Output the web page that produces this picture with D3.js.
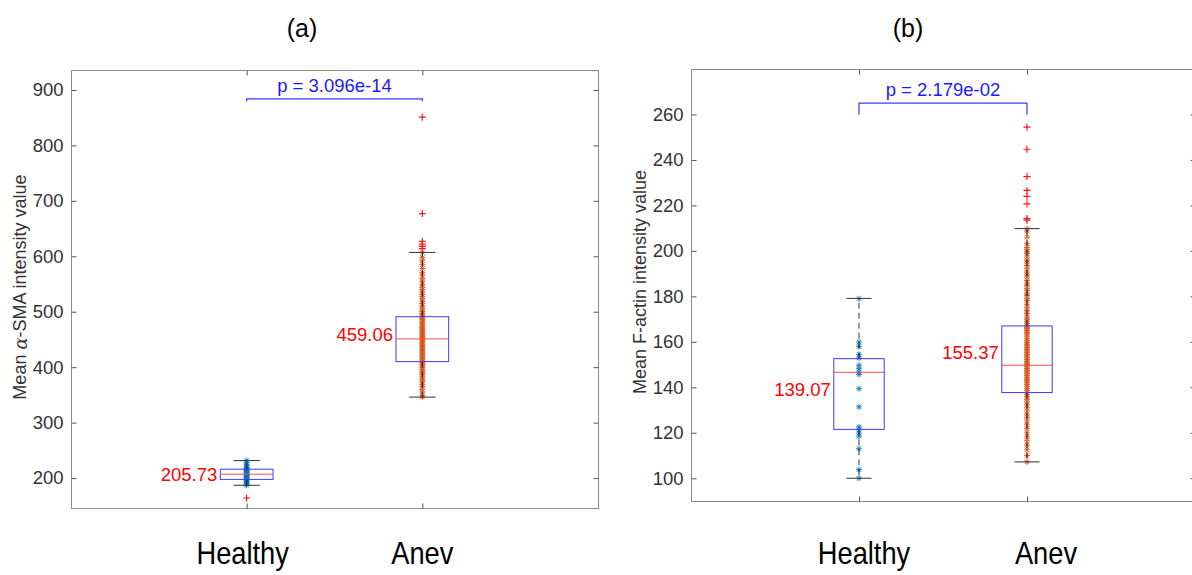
<!DOCTYPE html>
<html>
<head>
<meta charset="utf-8">
<script src="https://cdn.jsdelivr.net/npm/d3@7"></script>
<style>
  html, body { margin: 0; padding: 0; background: #fff; }
  svg { display: block; }
</style>
</head>
<body>
<svg id="chart" width="1192" height="575"></svg>
<script>
// ---------------- DATA ----------------
const categories = ["Healthy", "Anev"];
const panelTitles = ["(a)", "(b)"];
const yLabelsA = ["Mean ", "α", "-SMA intensity value"];
const yLabelB = "Mean F-actin intensity value";

// Panel (a): alpha-SMA
const smaTicks = [200, 300, 400, 500, 600, 700, 800, 900];
const smaHealthy = [231.5, 228, 225, 222, 219.5, 217, 215, 213.5, 212, 210.5, 209, 207.5, 206, 204.5, 203, 201, 199, 197, 195, 193, 191, 189, 187];
const smaAnev = [607, 598, 592, 585, 578, 571, 566, 560, 555, 549, 544, 540, 536, 531, 527, 523, 519, 515, 511, 507, 503, 500, 497, 494, 491, 489, 486, 483, 480, 478, 475, 472, 470, 467, 465, 462, 460, 458, 455, 453, 451, 449, 447, 444, 442, 440, 437, 435, 432, 430, 427, 425, 422, 420, 418, 415, 413, 410, 408, 405, 402, 399, 396, 393, 390, 387, 384, 380, 377, 373, 369, 365, 360, 355, 349, 346];
const smaOutHealthy = [164];
const smaOutAnev = [614, 618, 622, 627, 677, 851];
const smaQ1 = [197.6, 410];
const smaMedian = [207, 451];
const smaQ3 = [216, 491];
const smaWhiskerLo = [187, 346];
const smaWhiskerHi = [231.5, 607];
const smaMeans = [205.73, 459.06];
const smaP = "p = 3.096e-14";
const smaBracket = 884;

// Panel (b): F-actin
const actinTicks = [100, 120, 140, 160, 180, 200, 220, 240, 260];
const actinHealthy = [179, 159.9, 158, 154.5, 152.9, 149.7, 148.2, 146.7, 145.7, 139.4, 131.4, 122.6, 121.4, 119.9, 118.5, 113, 103.8, 100];
const actinAnev = [209.8, 208.7, 206, 203.2, 201.5, 200.5, 199.5, 198.8, 197.3, 196, 195.1, 193.6, 192.2, 190.7, 189.5, 188.5, 187, 185.5, 184.8, 183.5, 182.6, 181, 180.4, 179, 178.2, 176.5, 175, 173.8, 172.5, 170.9, 170, 169, 168, 167, 166.2, 165.8, 165, 164.2, 163.6, 162.5, 161.4, 160.5, 159.8, 159, 158.2, 157.5, 156.8, 156, 155.2, 154.5, 153.8, 153, 152.2, 151.5, 150.8, 150.2, 149.7, 149, 148.3, 147.5, 146.8, 146, 145.2, 144.5, 143.6, 142.8, 142, 141.2, 140.3, 139.5, 138.6, 137.7, 136.8, 135.8, 134.7, 133.5, 132.3, 131, 129.6, 128.2, 126.8, 125.2, 123.5, 121.8, 120, 118.2, 116.5, 114.6, 112.5, 110, 107.2];
const actinOutHealthy = [];
const actinOutAnev = [213.5, 214.2, 220.7, 224, 226.6, 232.7, 244.7, 254.4];
const actinQ1 = [121.5, 137.7];
const actinMedian = [146.6, 149.7];
const actinQ3 = [152.6, 167];
const actinWhiskerLo = [100, 107.2];
const actinWhiskerHi = [179.1, 209.8];
const actinMeans = [139.07, 155.37];
const actinP = "p = 2.179e-02";
const actinBracket = 265;

// ---------------- DRAWING ----------------
const svg = d3.select("#chart");
svg.append("rect").attr("width", 1192).attr("height", 575).attr("fill", "#fff");

const FONT = "'Liberation Sans', Arial, Helvetica, sans-serif";
const pointColors = ["#0072BD", "#D95319"];
const star = "M-3,0H3M0,-3V3M-2.2,-2.2L2.2,2.2M-2.2,2.2L2.2,-2.2";
const plus = "M-3.5,0H3.5M0,-3.5V3.5";

function drawPanel(cfg) {
  const x = d3.scaleLinear().domain([0, 3]).range([cfg.left, cfg.right]);
  const y = d3.scaleLinear().domain(cfg.yDomain).range([cfg.bottom, cfg.top]);
  const g = svg.append("g");

  // frame
  g.append("rect")
    .attr("x", cfg.left + 0.5).attr("y", cfg.top + 0.5)
    .attr("width", cfg.right - cfg.left).attr("height", cfg.bottom - cfg.top)
    .attr("fill", "none").attr("stroke", "#8c8c8c").attr("stroke-width", 1);

  // axes (inward ticks)
  const left = g.append("g").attr("transform", `translate(${cfg.left + 0.5},0)`)
    .call(d3.axisLeft(y).tickValues(cfg.ticks).tickSizeInner(-5).tickSizeOuter(0).tickPadding(8));
  const right = g.append("g").attr("transform", `translate(${cfg.right + 0.5},0)`)
    .call(d3.axisRight(y).tickValues(cfg.ticks).tickSizeInner(-5).tickSizeOuter(0).tickFormat(""));
  const bottom = g.append("g").attr("transform", `translate(0,${cfg.bottom + 0.5})`)
    .call(d3.axisBottom(x).tickValues([1, 2]).tickSizeInner(-5).tickSizeOuter(0).tickFormat(""));
  const top = g.append("g").attr("transform", `translate(0,${cfg.top + 0.5})`)
    .call(d3.axisTop(x).tickValues([1, 2]).tickSizeInner(-5).tickSizeOuter(0).tickFormat(""));
  [left, right, bottom, top].forEach(a => {
    a.select(".domain").remove();
    a.selectAll(".tick line").attr("stroke", "#555");
  });
  left.selectAll(".tick text").attr("font-family", FONT).attr("font-size", 18.5).attr("fill", "#333");

  // points (scatter, drawn first)
  cfg.points.forEach((arr, i) => {
    g.append("g").selectAll("path").data(arr).join("path")
      .attr("d", star)
      .attr("transform", d => `translate(${x(i + 1)},${y(d)})`)
      .attr("fill", "none").attr("stroke", pointColors[i]).attr("stroke-width", 1)
      .attr("stroke-opacity", 0.85);
  });

  // boxes
  categories.forEach((c, i) => {
    const cx = x(i + 1);
    const bw = x(0.3) - x(0);
    const cw = x(0.15) - x(0);
    // whiskers
    g.append("line").attr("x1", cx).attr("x2", cx).attr("y1", y(cfg.q3[i])).attr("y2", y(cfg.wHi[i]))
      .attr("stroke", "#000").attr("stroke-dasharray", "6,4").attr("stroke-width", 1).attr("stroke-opacity", 0.8);
    g.append("line").attr("x1", cx).attr("x2", cx).attr("y1", y(cfg.q1[i])).attr("y2", y(cfg.wLo[i]))
      .attr("stroke", "#000").attr("stroke-dasharray", "6,4").attr("stroke-width", 1).attr("stroke-opacity", 0.8);
    // caps
    [cfg.wHi[i], cfg.wLo[i]].forEach(v => {
      g.append("line").attr("x1", cx - cw / 2).attr("x2", cx + cw / 2).attr("y1", y(v)).attr("y2", y(v))
        .attr("stroke", "#333").attr("stroke-width", 1);
    });
    // box
    g.append("rect").attr("x", cx - bw / 2).attr("y", y(cfg.q3[i]))
      .attr("width", bw).attr("height", y(cfg.q1[i]) - y(cfg.q3[i]))
      .attr("fill", "none").attr("stroke", "#3a3aff").attr("stroke-width", 1);
    // median
    g.append("line").attr("x1", cx - bw / 2).attr("x2", cx + bw / 2)
      .attr("y1", y(cfg.med[i])).attr("y2", y(cfg.med[i]))
      .attr("stroke", "#ff4a4a").attr("stroke-width", 1);
    // mean label
    g.append("text").attr("x", cx - bw / 2 - 3).attr("y", y(cfg.means[i]))
      .attr("text-anchor", "end").attr("dominant-baseline", "central")
      .attr("font-family", FONT).attr("font-size", 18.5).attr("fill", "#ff0000")
      .text(cfg.means[i].toFixed(2));
    // outliers
    g.append("g").selectAll("path").data(cfg.outliers[i]).join("path")
      .attr("d", plus)
      .attr("transform", d => `translate(${cx},${y(d)})`)
      .attr("fill", "none").attr("stroke", "#ff1a1a").attr("stroke-width", 1.2);
  });

  // significance bracket
  const by = y(cfg.bracket), bd = y(cfg.bracket - 5);
  g.append("path")
    .attr("d", `M${x(1)},${bd}V${by}H${x(2)}V${bd}`)
    .attr("fill", "none").attr("stroke", "#3a3aff").attr("stroke-width", 1.2);
  g.append("text").attr("x", (x(1) + x(2)) / 2).attr("y", by - 7)
    .attr("text-anchor", "middle")
    .attr("font-family", FONT).attr("font-size", 18.5).attr("fill", "#1a1aff")
    .text(cfg.p);

  // title
  svg.append("text").attr("x", cfg.titleX).attr("y", 37).attr("text-anchor", "middle")
    .attr("font-family", FONT).attr("font-size", 25).attr("fill", "#000").text(cfg.title);

  // y label
  const yl = svg.append("text")
    .attr("transform", `translate(${cfg.yLabelX},${cfg.yLabelY}) rotate(-90)`)
    .attr("text-anchor", "middle").attr("dominant-baseline", "central")
    .attr("font-family", FONT).attr("font-size", 18).attr("fill", "#333");
  cfg.yLabel(yl);

  // category labels (condensed)
  categories.forEach((c, i) => {
    svg.append("text")
      .attr("transform", `translate(${x(i + 1) + cfg.catOffsets[i]},564) scale(0.88,1)`)
      .attr("text-anchor", "middle")
      .attr("font-family", FONT).attr("font-size", 31).attr("fill", "#000")
      .text(c);
  });
}

drawPanel({
  left: 71, right: 598, top: 70, bottom: 508,
  yDomain: [146, 936], ticks: smaTicks,
  points: [smaHealthy, smaAnev], outliers: [smaOutHealthy, smaOutAnev],
  q1: smaQ1, med: smaMedian, q3: smaQ3, wLo: smaWhiskerLo, wHi: smaWhiskerHi,
  means: smaMeans, p: smaP, bracket: smaBracket,
  title: panelTitles[0], titleX: 302,
  yLabelX: 20, yLabelY: 287,
  yLabel: t => {
    t.append("tspan").text(yLabelsA[0]);
    t.append("tspan").attr("font-family", "'DejaVu Serif', 'Liberation Serif', serif").attr("font-style", "italic").text(yLabelsA[1]);
    t.append("tspan").text(yLabelsA[2]);
  },
  catOffsets: [-4, 0]
});

drawPanel({
  left: 691, right: 1195, top: 69, bottom: 501,
  yDomain: [90, 280], ticks: actinTicks,
  points: [actinHealthy, actinAnev], outliers: [actinOutHealthy, actinOutAnev],
  q1: actinQ1, med: actinMedian, q3: actinQ3, wLo: actinWhiskerLo, wHi: actinWhiskerHi,
  means: actinMeans, p: actinP, bracket: actinBracket,
  title: panelTitles[1], titleX: 908,
  yLabelX: 640, yLabelY: 282,
  yLabel: t => t.text(yLabelB),
  catOffsets: [5, 19]
});
</script>
</body>
</html>
